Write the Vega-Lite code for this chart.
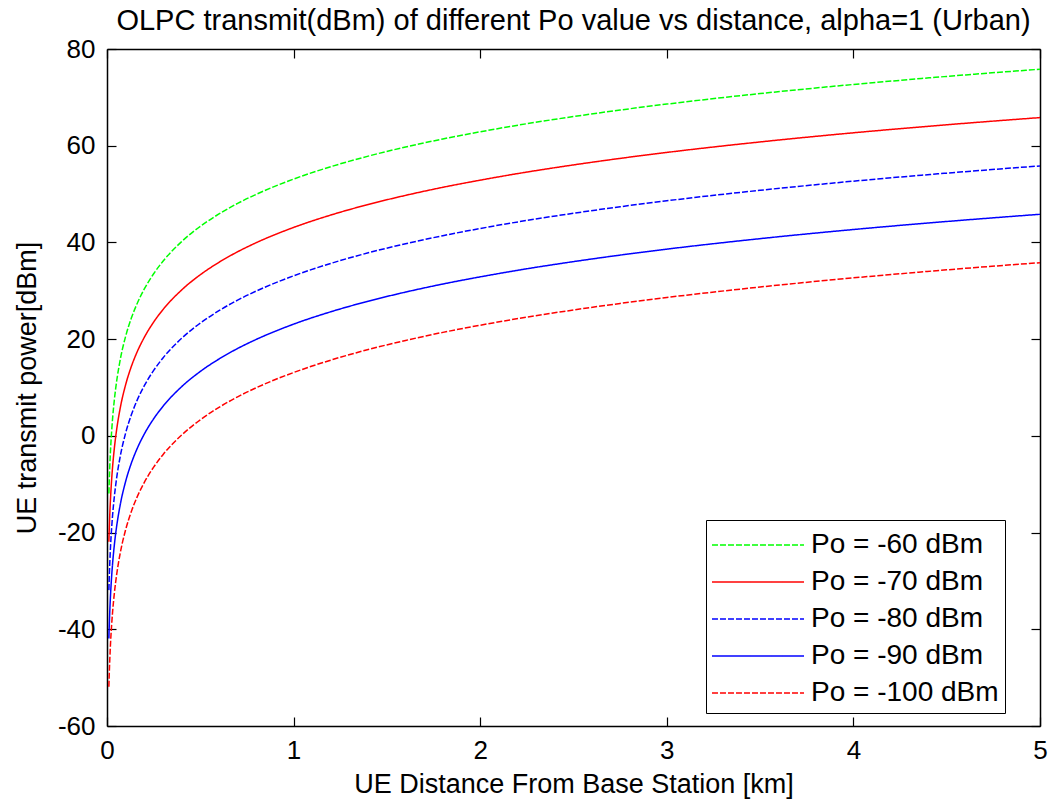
{
  "$schema": "https://vega.github.io/schema/vega-lite/v6.json",
  "width": 933,
  "height": 677,
  "autosize": {"type": "none"},
  "padding": {"left": 107, "top": 49, "right": 16, "bottom": 79},
  "background": "white",
  "title": {"text": "OLPC transmit(dBm) of different Po value vs distance, alpha=1 (Urban)", "font": "Arial", "fontSize": 29, "fontWeight": "normal", "color": "black", "offset": 0, "anchor": "middle"},
  "data": {"values": [
    {"d": 0.01, "p60": -11.9, "p70": -21.9, "p80": -31.9, "p90": -41.9, "p100": -51.9},
    {"d": 0.012, "p60": -9.33, "p70": -19.33, "p80": -29.33, "p90": -39.33, "p100": -49.33},
    {"d": 0.015, "p60": -6.18, "p70": -16.18, "p80": -26.18, "p90": -36.18, "p100": -46.18},
    {"d": 0.02, "p60": -2.12, "p70": -12.12, "p80": -22.12, "p90": -32.12, "p100": -42.12},
    {"d": 0.025, "p60": 1.03, "p70": -8.97, "p80": -18.97, "p90": -28.97, "p100": -38.97},
    {"d": 0.03, "p60": 3.61, "p70": -6.39, "p80": -16.39, "p90": -26.39, "p100": -36.39},
    {"d": 0.04, "p60": 7.67, "p70": -2.33, "p80": -12.33, "p90": -22.33, "p100": -32.33},
    {"d": 0.05, "p60": 10.82, "p70": 0.82, "p80": -9.18, "p90": -19.18, "p100": -29.18},
    {"d": 0.07, "p60": 15.57, "p70": 5.57, "p80": -4.43, "p90": -14.43, "p100": -24.43},
    {"d": 0.1, "p60": 20.6, "p70": 10.6, "p80": 0.6, "p90": -9.4, "p100": -19.4},
    {"d": 0.13, "p60": 24.3, "p70": 14.3, "p80": 4.3, "p90": -5.7, "p100": -15.7},
    {"d": 0.16, "p60": 27.23, "p70": 17.23, "p80": 7.23, "p90": -2.77, "p100": -12.77},
    {"d": 0.2, "p60": 30.38, "p70": 20.38, "p80": 10.38, "p90": 0.38, "p100": -9.62},
    {"d": 0.25, "p60": 33.53, "p70": 23.53, "p80": 13.53, "p90": 3.53, "p100": -6.47},
    {"d": 0.3, "p60": 36.11, "p70": 26.11, "p80": 16.11, "p90": 6.11, "p100": -3.89},
    {"d": 0.4, "p60": 40.17, "p70": 30.17, "p80": 20.17, "p90": 10.17, "p100": 0.17},
    {"d": 0.5, "p60": 43.32, "p70": 33.32, "p80": 23.32, "p90": 13.32, "p100": 3.32},
    {"d": 0.6, "p60": 45.89, "p70": 35.89, "p80": 25.89, "p90": 15.89, "p100": 5.89},
    {"d": 0.7, "p60": 48.07, "p70": 38.07, "p80": 28.07, "p90": 18.07, "p100": 8.07},
    {"d": 0.8, "p60": 49.95, "p70": 39.95, "p80": 29.95, "p90": 19.95, "p100": 9.95},
    {"d": 1.0, "p60": 53.1, "p70": 43.1, "p80": 33.1, "p90": 23.1, "p100": 13.1},
    {"d": 1.2, "p60": 55.67, "p70": 45.67, "p80": 35.67, "p90": 25.67, "p100": 15.67},
    {"d": 1.4, "p60": 57.85, "p70": 47.85, "p80": 37.85, "p90": 27.85, "p100": 17.85},
    {"d": 1.6, "p60": 59.73, "p70": 49.73, "p80": 39.73, "p90": 29.73, "p100": 19.73},
    {"d": 1.8, "p60": 61.4, "p70": 51.4, "p80": 41.4, "p90": 31.4, "p100": 21.4},
    {"d": 2.0, "p60": 62.88, "p70": 52.88, "p80": 42.88, "p90": 32.88, "p100": 22.88},
    {"d": 2.25, "p60": 64.55, "p70": 54.55, "p80": 44.55, "p90": 34.55, "p100": 24.55},
    {"d": 2.5, "p60": 66.03, "p70": 56.03, "p80": 46.03, "p90": 36.03, "p100": 26.03},
    {"d": 2.75, "p60": 67.38, "p70": 57.38, "p80": 47.38, "p90": 37.38, "p100": 27.38},
    {"d": 3.0, "p60": 68.61, "p70": 58.61, "p80": 48.61, "p90": 38.61, "p100": 28.61},
    {"d": 3.5, "p60": 70.78, "p70": 60.78, "p80": 50.78, "p90": 40.78, "p100": 30.78},
    {"d": 4.0, "p60": 72.67, "p70": 62.67, "p80": 52.67, "p90": 42.67, "p100": 32.67},
    {"d": 4.5, "p60": 74.33, "p70": 64.33, "p80": 54.33, "p90": 44.33, "p100": 34.33},
    {"d": 5.0, "p60": 75.82, "p70": 65.82, "p80": 55.82, "p90": 45.82, "p100": 35.82}
  ]},
  "transform": [{"fold": ["p60", "p70", "p80", "p90", "p100"], "as": ["series", "p"]}],
  "layer": [
    {
      "mark": {"type": "line", "strokeWidth": 1.5, "interpolate": "monotone", "clip": true},
      "encoding": {
        "x": {"field": "d", "type": "quantitative", "scale": {"domain": [0, 5], "nice": false, "zero": false},
              "axis": {"orient": "bottom", "title": "UE Distance From Base Station [km]", "values": [0, 1, 2, 3, 4, 5], "labelFlush": false, "labelPadding": 20, "titlePadding": 8}},
        "y": {"field": "p", "type": "quantitative", "scale": {"domain": [-60, 80], "nice": false, "zero": false},
              "axis": {"orient": "left", "title": "UE transmit power[dBm]", "values": [-60, -40, -20, 0, 20, 40, 60, 80], "labelFlush": false, "labelExpr": "datum.value + ''", "labelPadding": 21, "titlePadding": 16}},
        "color": {"field": "series", "type": "nominal",
                  "scale": {"domain": ["p60", "p70", "p80", "p90", "p100"], "range": ["#00ff00", "#ff0000", "#0000ff", "#0000ff", "#ff0000"]},
                  "legend": {"title": null, "orient": "none", "legendX": 599, "legendY": 471, "symbolType": "M-2.556,0H2.556", "symbolSize": 1296, "symbolStrokeWidth": 1.5, "symbolOffset": 27, "labelOffset": 34, "labelLimit": 400,
                             "labelFont": "Arial", "labelFontSize": 28, "labelColor": "black", "labelExpr": "'Po = -' + slice(datum.label, 1) + ' dBm\u00a0\u00a0\u00a0\u00a0\u00a0'",
                             "strokeColor": "black", "fillColor": "white", "padding": 6, "rowPadding": 4}},
        "strokeDash": {"field": "series", "type": "nominal",
                       "scale": {"domain": ["p60", "p70", "p80", "p90", "p100"], "range": [[6, 2], [1, 0], [6, 2], [1, 0], [6, 2]]},
                       "legend": {"title": null, "orient": "none", "legendX": 599, "legendY": 471, "symbolType": "M-2.556,0H2.556", "symbolSize": 1296, "symbolStrokeWidth": 1.5, "symbolOffset": 27, "labelOffset": 34, "labelLimit": 400,
                             "labelFont": "Arial", "labelFontSize": 28, "labelColor": "black", "labelExpr": "'Po = -' + slice(datum.label, 1) + ' dBm\u00a0\u00a0\u00a0\u00a0\u00a0'",
                             "strokeColor": "black", "fillColor": "white", "padding": 6, "rowPadding": 4}}
      }
    },
    {
      "mark": {"type": "line", "opacity": 0},
      "encoding": {
        "x": {"field": "d", "type": "quantitative", "scale": {"domain": [0, 5], "nice": false, "zero": false},
              "axis": {"orient": "top", "title": null, "labels": false, "values": [0, 1, 2, 3, 4, 5]}},
        "y": {"field": "p", "type": "quantitative", "scale": {"domain": [-60, 80], "nice": false, "zero": false},
              "axis": {"orient": "right", "title": null, "labels": false, "values": [-60, -40, -20, 0, 20, 40, 60, 80]}},
        "detail": {"field": "series", "type": "nominal"}
      }
    }
  ],
  "resolve": {"axis": {"x": "independent", "y": "independent"}},
  "config": {
    "view": {"stroke": null},
    "axis": {"grid": false, "domainColor": "black", "domainWidth": 1.5, "tickColor": "black", "tickSize": -9, "tickWidth": 1.2,
             "labelFont": "Arial", "labelFontSize": 26, "labelColor": "black", "titleFont": "Arial", "titleFontSize": 27, "titleFontWeight": "normal", "titleColor": "black"}
  }
}
